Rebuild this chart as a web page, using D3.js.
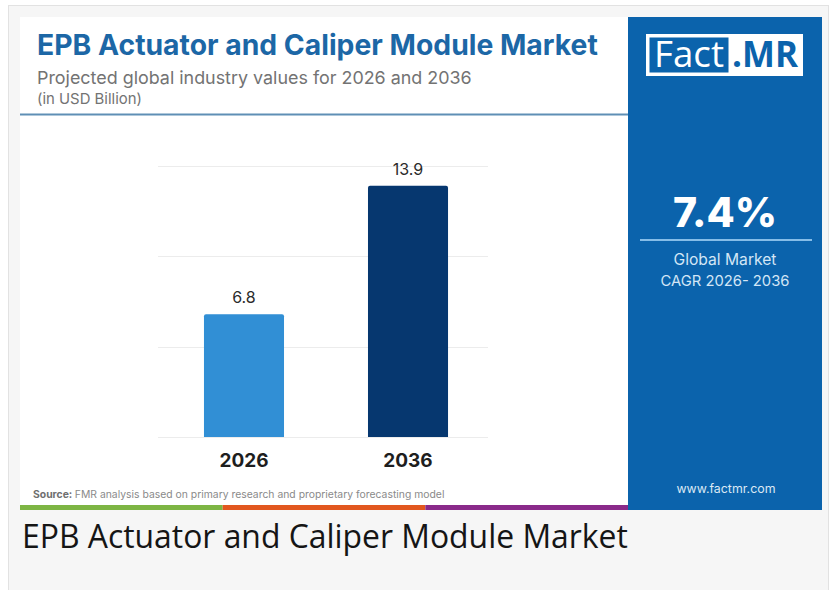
<!DOCTYPE html>
<html>
<head>
<meta charset="utf-8">
<script src="https://cdn.jsdelivr.net/npm/d3@7"></script>
<style>
  html, body { margin: 0; padding: 0; background: #fff; }
  svg { display: block; }
</style>
</head>
<body>
<svg id="chart" width="836" height="590"></svg>
<script>
// values
const YEARS = ["2026", "2036"];
const VALUES = [6.8, 13.9];
const GRID_TICKS = [0, 5, 10, 15];
const BAR_COLORS = ["#318fd5", "#06376f"];
const STRIPES = ["#7db544", "#e2571f", "#8a2a8a"];
const CAGR = "7.4%";

const TITLE = "EPB Actuator and Caliper Module Market";
const SUBTITLE = "Projected global industry values for 2026 and 2036";
const UNIT = "(in USD Billion)";
const SOURCE = "FMR analysis based on primary research and proprietary forecasting model";

const svg = d3.select("#chart");
const PANEL = "#0b63ac";

// scale a text's font size until it spans the wanted width
function fit(sel, w) {
  const n = sel.node();
  const fs = parseFloat(sel.attr("font-size"));
  const cur = n.getComputedTextLength();
  if (cur > 0) sel.attr("font-size", fs * w / cur);
  return sel;
}

// page card
svg.append("rect").attr("x", 8.5).attr("y", 5.5).attr("width", 820).attr("height", 600)
  .attr("fill", "#f6f6f6").attr("stroke", "#e2e2e2");

// infographic left panel
svg.append("rect").attr("x", 20).attr("y", 17).attr("width", 608).attr("height", 493)
  .attr("fill", "#fff");
svg.append("rect").attr("x", 628).attr("y", 17).attr("width", 194).attr("height", 493)
  .attr("fill", PANEL);

// header
fit(svg.append("text").attr("x", 37).attr("y", 55).attr("font-family", "Inter")
  .attr("font-weight", 700).attr("font-size", 24).attr("fill", "#1c67a6").text(TITLE), 561);
fit(svg.append("text").attr("x", 37).attr("y", 84).attr("font-family", "Inter")
  .attr("font-size", 16).attr("fill", "#737373").text(SUBTITLE), 435);
fit(svg.append("text").attr("x", 37).attr("y", 104).attr("font-family", "Inter")
  .attr("font-size", 12).attr("fill", "#737373").text(UNIT), 105);
svg.append("line").attr("x1", 20).attr("x2", 628).attr("y1", 114.5).attr("y2", 114.5)
  .attr("stroke", "#5f8fb5").attr("stroke-width", 2);

// chart
const x = d3.scaleBand().domain(YEARS).range([161, 491]).paddingInner(0.512).paddingOuter(0.262);
const y = d3.scaleLinear().domain([0, 15]).range([437, 166]);

svg.append("g").selectAll("line").data(GRID_TICKS).join("line")
  .attr("x1", 158).attr("x2", 488)
  .attr("y1", (d) => Math.round(y(d)) + 0.5).attr("y2", (d) => Math.round(y(d)) + 0.5)
  .attr("stroke", "#ececec").attr("stroke-width", 1.2);

const data = YEARS.map((k, i) => ({k, v: VALUES[i], c: BAR_COLORS[i]}));
svg.append("g").selectAll("path").data(data).join("path")
  .attr("fill", (d) => d.c)
  .attr("d", (d) => {
    const x0 = x(d.k), w = x.bandwidth(), y0 = y(d.v), y1 = y(0), r = 2;
    return `M${x0},${y1}V${y0 + r}Q${x0},${y0} ${x0 + r},${y0}H${x0 + w - r}` +
           `Q${x0 + w},${y0} ${x0 + w},${y0 + r}V${y1}Z`;
  });

svg.append("g").selectAll("text").data(data).join("text")
  .attr("x", (d) => x(d.k) + x.bandwidth() / 2).attr("y", (d) => y(d.v) - 11)
  .attr("text-anchor", "middle").attr("font-family", "Inter").attr("font-size", 16)
  .attr("fill", "#2b2b2b").text((d) => d.v.toFixed(1));

svg.append("g").selectAll("text").data(YEARS).join("text")
  .attr("x", (d) => x(d) + x.bandwidth() / 2).attr("y", 467)
  .attr("text-anchor", "middle").attr("font-family", "Inter").attr("font-weight", 700)
  .attr("font-size", 19).attr("fill", "#1e1e1e").text((d) => d);

// source line
const src = svg.append("text").attr("x", 33).attr("y", 498).attr("font-family", "Inter")
  .attr("font-size", 9).attr("fill", "#8a8a8a");
src.append("tspan").attr("font-weight", 700).attr("fill", "#6f6f6f").text("Source: ");
src.append("tspan").text(SOURCE);
fit(src, 412);

// colour stripe
const sx = d3.scaleBand().domain(STRIPES).range([20, 628]);
svg.append("g").selectAll("rect").data(STRIPES).join("rect")
  .attr("x", (d) => sx(d)).attr("width", sx.bandwidth()).attr("y", 505).attr("height", 5)
  .attr("fill", (d) => d);

// side panel: logo
const logo = svg.append("g");
logo.append("rect").attr("x", 646).attr("y", 34).attr("width", 157).attr("height", 42)
  .attr("fill", "#fff");
logo.append("rect").attr("x", 649.5).attr("y", 37.5).attr("width", 79).attr("height", 35)
  .attr("fill", PANEL);
fit(logo.append("text").attr("x", 654).attr("y", 67).attr("font-family", "Open Sans")
  .attr("font-size", 30).attr("fill", "#fff").text("Fact"), 70);
fit(logo.append("text").attr("x", 732).attr("y", 67).attr("font-family", "Open Sans")
  .attr("font-weight", 700).attr("font-size", 30).attr("fill", PANEL).text(".MR"), 66);

// side panel: CAGR
fit(svg.append("text").attr("x", 725).attr("y", 227).attr("text-anchor", "middle")
  .attr("font-family", "Inter").attr("font-weight", 800).attr("font-size", 40)
  .attr("fill", "#fff").text(CAGR), 104);
svg.append("line").attr("x1", 640).attr("x2", 812).attr("y1", 240).attr("y2", 240)
  .attr("stroke", "#86bde8").attr("stroke-width", 2);
fit(svg.append("text").attr("x", 725).attr("y", 265).attr("text-anchor", "middle")
  .attr("font-family", "Inter").attr("font-size", 13.5).attr("fill", "#d3e6f6")
  .text("Global Market"), 103);
fit(svg.append("text").attr("x", 725).attr("y", 286).attr("text-anchor", "middle")
  .attr("font-family", "Inter").attr("font-size", 13.5).attr("fill", "#d3e6f6")
  .text("CAGR 2026- 2036"), 129);
fit(svg.append("text").attr("x", 726).attr("y", 493).attr("text-anchor", "middle")
  .attr("font-family", "Inter").attr("font-size", 11.5).attr("fill", "#dbe9f5")
  .text("www.factmr.com"), 99);

// caption under the image
fit(svg.append("text").attr("x", 22).attr("y", 548).attr("font-family", "Open Sans")
  .attr("font-size", 28).attr("fill", "#151515").text(TITLE), 606);
</script>
</body>
</html>
